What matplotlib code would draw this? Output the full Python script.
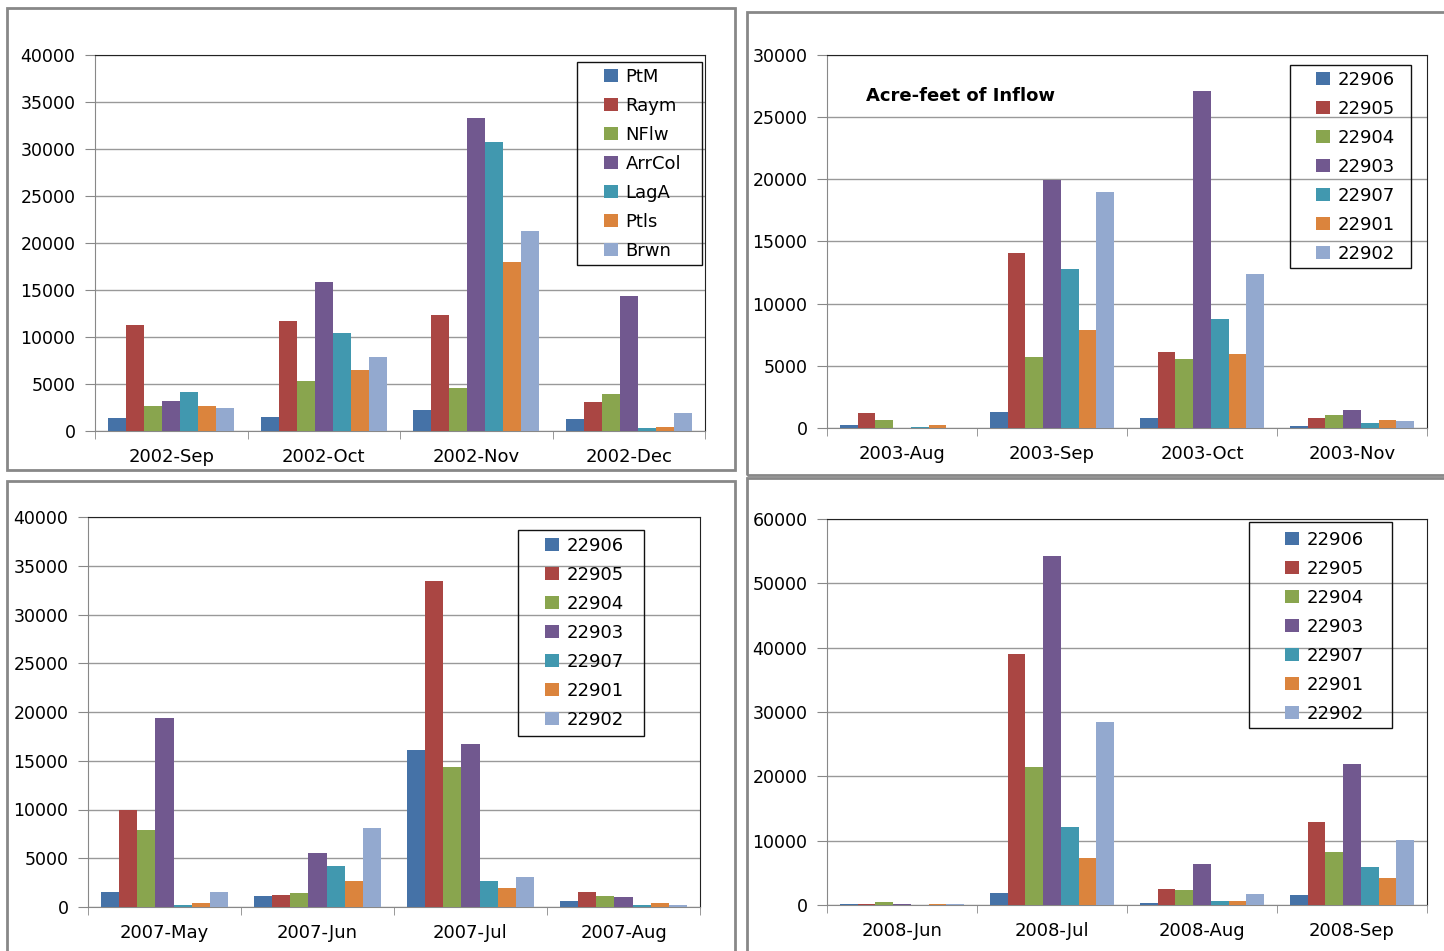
import numpy as np
import matplotlib
matplotlib.use('Agg')
import matplotlib.pyplot as plt
from matplotlib.patches import Rectangle

# Цвета рядов (палитра Excel)
colors = ['#4572A7', '#AA4643', '#89A54E', '#71588F', '#4198AF', '#DB843D', '#93A9CF']

# 2002: названия станций
names_2002 = ['PtM', 'Raym', 'NFlw', 'ArrCol', 'LagA', 'Ptls', 'Brwn']
months_2002 = ['2002-Sep', '2002-Oct', '2002-Nov', '2002-Dec']
vals_2002 = [
    [1400, 1500, 2200, 1300],      # PtM
    [11300, 11700, 12300, 3100],   # Raym
    [2650, 5300, 4600, 3950],      # NFlw
    [3200, 15800, 33300, 14400],   # ArrCol
    [4150, 10450, 30700, 350],     # LagA
    [2650, 6500, 18000, 430],      # Ptls
    [2450, 7850, 21300, 1900],     # Brwn
]

# Номера станций для остальных графиков
stations = ['22906', '22905', '22904', '22903', '22907', '22901', '22902']

months_2003 = ['2003-Aug', '2003-Sep', '2003-Oct', '2003-Nov']
vals_2003 = [
    [240, 1250, 800, 170],
    [1180, 14100, 6150, 800],
    [620, 5700, 5550, 1020],
    [0, 19950, 27100, 1480],
    [80, 12750, 8800, 400],
    [240, 7900, 5950, 630],
    [0, 18950, 12400, 550],
]

months_2007 = ['2007-May', '2007-Jun', '2007-Jul', '2007-Aug']
vals_2007 = [
    [1500, 1100, 16100, 620],
    [9900, 1180, 33450, 1500],
    [7900, 1400, 14400, 1100],
    [19400, 5550, 16750, 1000],
    [200, 4200, 2680, 200],
    [410, 2680, 1920, 410],
    [1500, 8100, 3080, 200],
]

months_2008 = ['2008-Jun', '2008-Jul', '2008-Aug', '2008-Sep']
vals_2008 = [
    [200, 1850, 380, 1550],
    [200, 39000, 2550, 12900],
    [470, 21500, 2300, 8250],
    [200, 54300, 6300, 21950],
    [0, 12100, 640, 5850],
    [200, 7350, 640, 4200],
    [200, 28400, 1720, 10150],
]

plt.rcParams['font.family'] = 'DejaVu Sans'
fig = plt.figure(figsize=(14.44, 9.51), dpi=100)

# всё раскладываем в пикселях картинки (y считается сверху)
W, H = 1444, 951


def fig_rect(x0, y0, x1, y1):
    return [x0 / W, 1 - y1 / H, (x1 - x0) / W, (y1 - y0) / H]


# Рамки панелей
for x0, y0, x1, y1 in [(7, 8, 735, 470), (747, 12, 1452, 475),
                       (7, 481, 735, 960), (747, 478, 1452, 960)]:
    l, b, w_, h_ = fig_rect(x0, y0, x1, y1)
    fig.patches.append(Rectangle((l, b), w_, h_, transform=fig.transFigure, fill=False,
                                 edgecolor='#888888', linewidth=2))


def draw_panel(area, months, vals, names, ymax, step, leg_frame, leg_text, title=None):
    x0, y0, x1, y1 = area
    ax = fig.add_axes(fig_rect(x0, y0, x1, y1))
    x = np.arange(len(months))
    w = 0.118
    n = len(names)
    for i in range(n):
        ax.bar(x + (i - (n - 1) / 2) * w, vals[i], w, color=colors[i],
               label=names[i], zorder=3)
    ax.set_xlim(-0.5, len(months) - 0.5)
    ax.set_ylim(0, ymax)
    ax.set_yticks(np.arange(0, ymax + 1, step))
    ax.set_xticks(x)
    ax.set_xticklabels(months, fontsize=13)
    ax.set_xticks(np.arange(-0.5, len(months)), minor=True)
    ax.tick_params(axis='x', which='major', length=0, pad=12)
    ax.tick_params(axis='x', which='minor', length=6, color='#888888', direction='out')
    ax.tick_params(axis='y', length=7, color='#888888', labelsize=12.5, pad=7)
    ax.yaxis.grid(True, color='#999999', linewidth=1, zorder=0)
    ax.set_axisbelow(True)
    ax.spines['left'].set_color('#888888')
    ax.spines['bottom'].set_color('#888888')
    ax.spines['top'].set_color('#222222')
    ax.spines['right'].set_color('#222222')

    # рамка легенды отдельно, чтобы задать точный размер
    fx0, fy0, fx1, fy1 = leg_frame
    ax.add_patch(Rectangle(((fx0 - x0) / (x1 - x0), (y1 - fy1) / (y1 - y0)),
                           (fx1 - fx0) / (x1 - x0), (fy1 - fy0) / (y1 - y0),
                           transform=ax.transAxes, fill=False, edgecolor='#111111',
                           linewidth=1, clip_on=False, zorder=5))
    hx, hy = leg_text
    ax.legend(loc='upper left',
              bbox_to_anchor=((hx - x0) / (x1 - x0), (y1 - hy) / (y1 - y0)),
              frameon=False, fontsize=13, handlelength=0.75, handleheight=0.75,
              labelspacing=0.61, handletextpad=0.45, borderpad=0, borderaxespad=0)
    if title:
        ax.text((866 - x0) / (x1 - x0), (y1 - 96) / (y1 - y0), title,
                transform=ax.transAxes, fontsize=13, fontweight='bold',
                va='center', ha='left')
    return ax


draw_panel((95, 55, 705, 431), months_2002, vals_2002, names_2002, 40000, 5000,
           (577, 62, 702, 265), (604, 68))
draw_panel((827, 55, 1427, 428), months_2003, vals_2003, stations, 30000, 5000,
           (1290, 65, 1411, 268), (1316, 71), title='Acre-feet of Inflow')
draw_panel((88, 517, 700, 907), months_2007, vals_2007, stations, 40000, 5000,
           (518, 530, 644, 736), (545, 537))
draw_panel((827, 519, 1427, 905), months_2008, vals_2008, stations, 60000, 10000,
           (1249, 522, 1392, 728), (1285, 531))

plt.savefig('out.png', dpi=100)
